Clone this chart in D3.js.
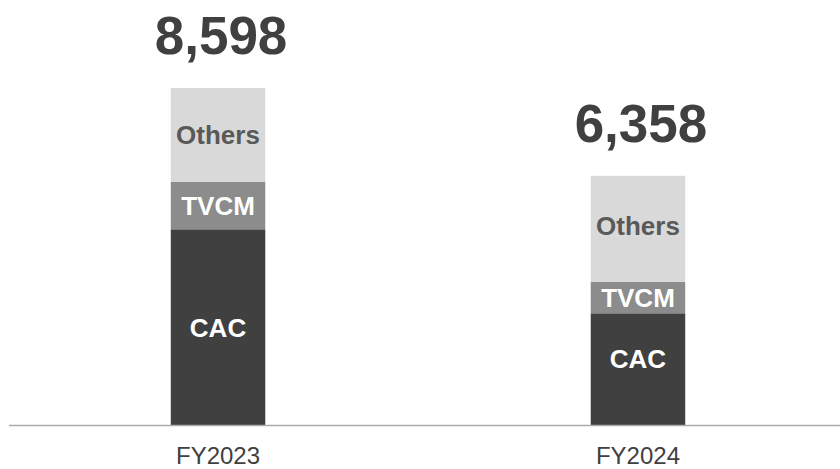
<!DOCTYPE html>
<html>
<head>
<meta charset="utf-8">
<script src="https://cdn.jsdelivr.net/npm/d3@7"></script>
<style>
  body { margin: 0; background: #fff; }
  svg { display: block; font-family: "Liberation Sans", Arial, sans-serif; }
</style>
</head>
<body>
<div class="visualization"></div>
<script>
'use strict';

// values
var years = ['FY2023', 'FY2024'];
var segments = ['CAC', 'TVCM', 'Others'];
var cac = [4993, 2850];
var tvcm = [1207, 800];
var others = [2398, 2708];

var width = 840,
    height = 469,
    baseY = 425;

// the original deck nudges a couple of labels up a bit
var nudge = { 'FY2024-CAC': -11, 'FY2024-Others': -3 };

var svg = d3.select('.visualization')
  .append('svg')
  .attr('width', width)
  .attr('height', height);

// build rows for the stack
var rows = years.map(function(y, i) {
  return { year: y, CAC: cac[i], TVCM: tvcm[i], Others: others[i] };
});

var stacked = d3.stack().keys(segments)(rows);

var x = d3.scaleBand()
  .domain(years)
  .range([7, 849])
  .paddingInner(0.775)
  .paddingOuter(0.39);

var y = d3.scaleLinear()
  .domain([0, 8598])
  .range([baseY, 88]);

var fill = d3.scaleOrdinal()
  .domain(segments)
  .range(['#404040', '#8c8c8c', '#d9d9d9']);

var labelColor = d3.scaleOrdinal()
  .domain(segments)
  .range(['#ffffff', '#ffffff', '#595959']);

// bars
var layers = svg.selectAll('g.layer')
  .data(stacked)
  .enter().append('g')
  .attr('class', 'layer')
  .attr('fill', function(d) { return fill(d.key); });

layers.selectAll('rect')
  .data(function(d) { return d; })
  .enter().append('rect')
  .attr('x', function(d) { return x(d.data.year); })
  .attr('width', x.bandwidth())
  .attr('y', function(d) { return y(d[1]); })
  .attr('height', function(d) { return y(d[0]) - y(d[1]); });

// segment labels
stacked.forEach(function(layer) {
  svg.selectAll(null)
    .data(layer)
    .enter().append('text')
    .text(layer.key)
    .attr('x', function(d) { return x(d.data.year) + x.bandwidth() / 2; })
    .attr('y', function(d) {
      var off = nudge[d.data.year + '-' + layer.key] || 0;
      return (y(d[0]) + y(d[1])) / 2 + off;
    })
    .attr('dy', '0.36em')
    .attr('text-anchor', 'middle')
    .attr('font-weight', 'bold')
    .attr('font-size', '26px')
    .attr('fill', labelColor(layer.key));
});

// totals on top
var fmt = d3.format(',');
svg.selectAll('text.total')
  .data(rows)
  .enter().append('text')
  .attr('class', 'total')
  .text(function(d) { return fmt(d.CAC + d.TVCM + d.Others); })
  .attr('x', function(d) { return x(d.year) + x.bandwidth() / 2 + 3; })
  .attr('y', function(d) { return y(d.CAC + d.TVCM + d.Others) - 34; })
  .attr('text-anchor', 'middle')
  .attr('font-weight', 'bold')
  .attr('font-size', '53px')
  .attr('fill', '#404040');

// baseline
svg.append('line')
  .attr('x1', 9)
  .attr('x2', width)
  .attr('y1', baseY + 0.5)
  .attr('y2', baseY + 0.5)
  .attr('stroke', '#ababab')
  .attr('stroke-width', 1.5);

// category labels
svg.selectAll('text.cat')
  .data(years)
  .enter().append('text')
  .attr('class', 'cat')
  .text(function(d) { return d; })
  .attr('x', function(d) { return x(d) + x.bandwidth() / 2; })
  .attr('y', 464)
  .attr('text-anchor', 'middle')
  .attr('font-size', '24px')
  .attr('fill', '#404040');
</script>
</body>
</html>
